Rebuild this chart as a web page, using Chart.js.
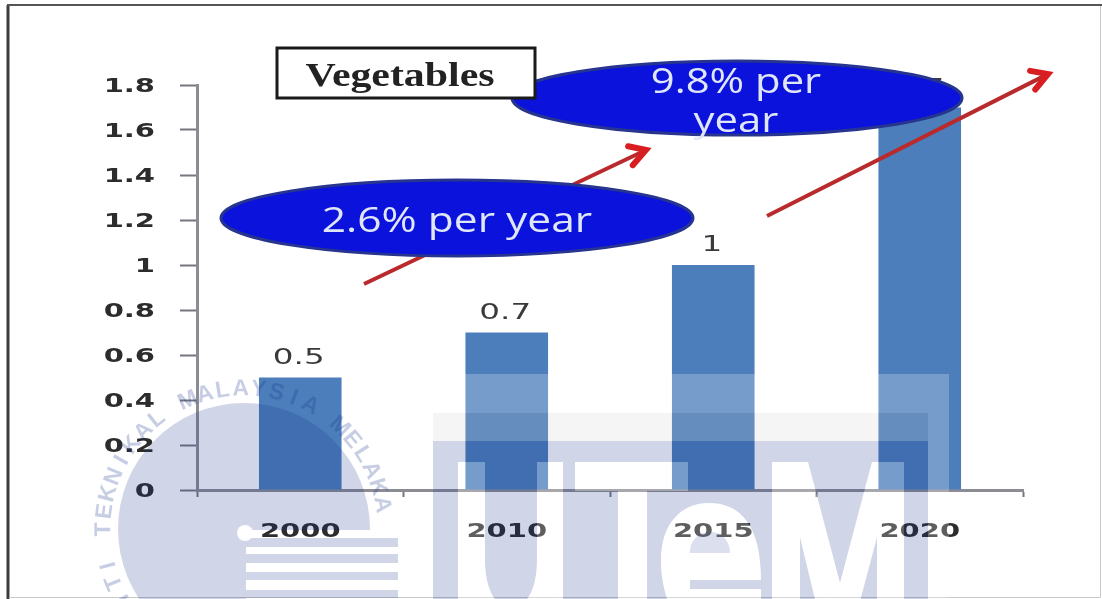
<!DOCTYPE html>
<html>
<head>
<meta charset="utf-8">
<title>Vegetables</title>
<script src="https://cdn.jsdelivr.net/npm/chart.js@4/dist/chart.umd.min.js"></script>
<style>
  html, body { margin: 0; padding: 0; background: #fff; overflow: hidden; }
  canvas { display: block; }
</style>
</head>
<body>
<canvas id="vegChart" width="1102" height="599"></canvas>
<script>
// Datos del gráfico
const years = ["2000", "2010", "2015", "2020"];
const vegetableValues = [0.5, 0.7, 1, 1.7];
const valueLabels = ["0.5", "0.7", "1", "1.7"];
const yTickValues = [0, 0.2, 0.4, 0.6, 0.8, 1, 1.2, 1.4, 1.6, 1.8];
const chartTitle = "Vegetables";
const growthLow = ["2.6% per year"];
const growthHigh = ["9.8% per", "year"];
const sealText = "UNIVERSITI TEKNIKAL MALAYSIA MELAKA";

const tint = "rgba(20,50,140,0.2)";

// Texto estirado en horizontal
function wideText(ctx, text, x, y, stretch) {
  ctx.save();
  ctx.translate(x, y);
  ctx.scale(stretch, 1);
  ctx.textAlign = "center";
  ctx.textBaseline = "middle";
  ctx.fillText(text, 0, 0);
  ctx.restore();
}

function drawArrow(ctx, x1, y1, x2, y2) {
  const angle = Math.atan2(y2 - y1, x2 - x1);
  ctx.save();
  ctx.strokeStyle = "#b92a2c";
  ctx.lineWidth = 4;
  ctx.beginPath();
  ctx.moveTo(x1, y1);
  ctx.lineTo(x2 - 8 * Math.cos(angle), y2 - 8 * Math.sin(angle));
  ctx.stroke();
  ctx.strokeStyle = "#d81e20";
  ctx.lineWidth = 6;
  ctx.lineCap = "round";
  ctx.beginPath();
  ctx.moveTo(x2 - 26 * Math.cos(angle - 0.5), y2 - 20 * Math.sin(angle - 0.5));
  ctx.lineTo(x2 - 2, y2 + 1);
  ctx.lineTo(x2 - 20 * Math.cos(angle + 0.55), y2 - 26 * Math.sin(angle + 0.55));
  ctx.stroke();
  ctx.restore();
}

function drawBubble(ctx, cx, cy, rx, ry) {
  ctx.save();
  ctx.beginPath();
  ctx.ellipse(cx, cy, rx, ry, 0, 0, Math.PI * 2);
  ctx.fillStyle = "#0a12dc";
  ctx.fill();
  ctx.strokeStyle = "#27358f";
  ctx.lineWidth = 3;
  ctx.stroke();
  ctx.restore();
}

// Ensancha los textos de los ejes mientras se dibujan las escalas
const wideTicksPlugin = {
  id: "wideTicks",
  beforeDraw(chart) {
    const ctx = chart.ctx;
    const fillText = CanvasRenderingContext2D.prototype.fillText;
    ctx.fillText = function (text, x, y) {
      ctx.save();
      ctx.translate(x, y + 1.5);
      ctx.scale(1.45, 1);
      fillText.call(ctx, text, 0, 0);
      ctx.restore();
    };
  },
  beforeDatasetsDraw(chart) {
    delete chart.ctx.fillText;
  },
};

// Etiquetas de valor sobre cada barra
const valueLabelPlugin = {
  id: "valueLabels",
  afterDatasetsDraw(chart) {
    const ctx = chart.ctx;
    const bars = chart.getDatasetMeta(0).data;
    ctx.save();
    ctx.fillStyle = "#3a3a3a";
    ctx.font = "21px 'DejaVu Sans'";
    bars.forEach((bar, i) => {
      wideText(ctx, valueLabels[i], bar.x - 1.5, bar.y - 19, 1.55);
    });
    ctx.restore();
  },
};

// Flechas, óvalos y recuadro del título
const annotationPlugin = {
  id: "annotations",
  afterDraw(chart) {
    const ctx = chart.ctx;
    ctx.save();

    drawArrow(ctx, 364, 284, 648, 149);
    drawBubble(ctx, 457, 218, 236, 38);
    drawBubble(ctx, 737, 98, 225, 37);
    drawArrow(ctx, 767, 216, 1050, 73);

    ctx.fillStyle = "#dfe6f7";
    ctx.font = "34px 'Open Sans'";
    wideText(ctx, growthLow[0], 457, 222, 1.25);
    wideText(ctx, growthHigh[0], 736, 83, 1.23);
    wideText(ctx, growthHigh[1], 736, 122, 1.23);

    ctx.fillStyle = "#fff";
    ctx.fillRect(277, 48, 258, 50);
    ctx.strokeStyle = "#1a1a1a";
    ctx.lineWidth = 3;
    ctx.strokeRect(277, 48, 258, 50);
    ctx.fillStyle = "#222";
    ctx.font = "bold 34px 'Liberation Serif'";
    wideText(ctx, chartTitle, 400, 77, 1.23);

    // Marco de la diapositiva
    ctx.strokeStyle = "#3c3c3c";
    ctx.lineWidth = 3;
    ctx.beginPath();
    ctx.moveTo(8, 599);
    ctx.lineTo(8, 5);
    ctx.stroke();
    ctx.lineWidth = 2;
    ctx.strokeStyle = "#555";
    ctx.beginPath();
    ctx.moveTo(7, 5);
    ctx.lineTo(1102, 5);
    ctx.stroke();
    ctx.lineWidth = 1;
    ctx.strokeStyle = "#c8c8c8";
    ctx.beginPath();
    ctx.moveTo(1100.5, 6);
    ctx.lineTo(1100.5, 597.5);
    ctx.lineTo(9, 597.5);
    ctx.stroke();

    drawSeal(ctx);
    drawLetters(ctx);
    ctx.restore();
  },
};

// Sello circular con franjas
function drawSeal(ctx) {
  const cx = 244, cy = 529, r = 126;
  ctx.save();
  ctx.beginPath();
  ctx.rect(0, 0, 1102, 530);
  ctx.rect(0, 530, 246, 69);
  ctx.clip();
  ctx.beginPath();
  ctx.arc(cx, cy, r, 0, Math.PI * 2);
  ctx.fillStyle = tint;
  ctx.fill();
  ctx.restore();

  ctx.fillStyle = tint;
  [[538, 9], [554, 9], [572, 8], [590, 8]].forEach(([y, h]) => {
    ctx.fillRect(246, y, 152, h);
  });

  ctx.fillStyle = "#fff";
  ctx.beginPath();
  ctx.arc(245, 533, 8, 0, Math.PI * 2);
  ctx.fill();

  // Letras alrededor del sello
  ctx.fillStyle = "rgba(20,50,140,0.24)";
  ctx.font = "bold 23px 'Liberation Sans'";
  ctx.textAlign = "center";
  ctx.textBaseline = "middle";
  const step = 7.4 * Math.PI / 180;
  const last = 80 * Math.PI / 180;
  const n = sealText.length;
  for (let i = 0; i < n; i++) {
    const a = last - (n - 1 - i) * step;
    ctx.save();
    ctx.translate(cx + 140 * Math.sin(a), cy - 140 * Math.cos(a));
    ctx.rotate(a);
    ctx.fillText(sealText[i], 0, 0);
    ctx.restore();
  }
}

// Bloque con las letras recortadas
function drawLetters(ctx) {
  const letters = new Path2D();
  // U
  letters.moveTo(458, 462);
  letters.lineTo(485, 462);
  letters.lineTo(485, 560);
  letters.bezierCurveTo(485, 625, 537, 625, 537, 560);
  letters.lineTo(537, 462);
  letters.lineTo(563, 462);
  letters.lineTo(563, 640);
  letters.lineTo(458, 640);
  letters.closePath();
  // T
  letters.moveTo(575, 462);
  letters.lineTo(688, 462);
  letters.lineTo(688, 491);
  letters.lineTo(647, 491);
  letters.lineTo(647, 640);
  letters.lineTo(618, 640);
  letters.lineTo(618, 491);
  letters.lineTo(575, 491);
  letters.closePath();
  // e
  letters.moveTo(761, 640);
  letters.lineTo(709, 640);
  letters.bezierCurveTo(680, 640, 661, 600, 661, 560);
  letters.bezierCurveTo(661, 525, 680, 503, 709, 503);
  letters.bezierCurveTo(740, 503, 761, 525, 761, 580);
  letters.lineTo(690, 580);
  letters.lineTo(690, 589);
  letters.lineTo(761, 589);
  letters.closePath();
  letters.moveTo(690, 553);
  letters.bezierCurveTo(690, 525, 730, 525, 730, 553);
  letters.closePath();
  // M
  letters.moveTo(772, 462);
  letters.lineTo(808, 462);
  letters.lineTo(840, 583);
  letters.lineTo(872, 462);
  letters.lineTo(904, 462);
  letters.lineTo(904, 640);
  letters.lineTo(877, 640);
  letters.lineTo(877, 537);
  letters.lineTo(855, 620);
  letters.lineTo(820, 620);
  letters.lineTo(800, 537);
  letters.lineTo(800, 640);
  letters.lineTo(772, 640);
  letters.closePath();

  const block = new Path2D();
  block.rect(433, 441, 495, 160);
  block.addPath(letters);
  ctx.fillStyle = tint;
  ctx.fill(block, "evenodd");

  ctx.fillStyle = "rgba(255,255,255,0.24)";
  ctx.fill(letters);
  ctx.fillRect(433, 374, 516, 39);
  ctx.fillRect(928, 413, 21, 186);
  ctx.fillStyle = "rgba(205,205,205,0.2)";
  ctx.fillRect(433, 413, 495, 28);
}

const ctx = document.getElementById("vegChart").getContext("2d");
const vegChart = new Chart(ctx, {
  type: "bar",
  data: {
    labels: years,
    datasets: [
      {
        data: vegetableValues,
        backgroundColor: "#4c7ebb",
        barPercentage: 0.4,
        categoryPercentage: 1,
      },
    ],
  },
  options: {
    responsive: false,
    animation: false,
    layout: { padding: { top: 85, right: 79, left: 0, bottom: 0 } },
    plugins: {
      legend: { display: false },
      tooltip: { enabled: false },
    },
    scales: {
      x: {
        afterFit: (scale) => { scale.height = 109; },
        border: { color: "#8c8c94", width: 3 },
        grid: {
          drawOnChartArea: false,
          color: "#77777f",
          tickLength: 7,
          tickWidth: 2,
        },
        ticks: {
          color: "#2c2c2c",
          padding: 21,
          maxRotation: 0,
          font: { family: "'DejaVu Sans'", size: 20, weight: "bold" },
        },
      },
      y: {
        min: 0,
        max: 1.8,
        afterFit: (scale) => { scale.width = 197; },
        afterBuildTicks: (scale) => {
          scale.ticks = yTickValues.map((value) => ({ value }));
        },
        border: { color: "#8c8c94", width: 3 },
        grid: {
          drawOnChartArea: false,
          color: "#77777f",
          tickLength: 17,
          tickWidth: 2,
        },
        ticks: {
          color: "#2c2c2c",
          padding: 25,
          autoSkip: false,
          callback: (value) => String(+value.toFixed(1)),
          font: { family: "'DejaVu Sans'", size: 20, weight: "bold" },
        },
      },
    },
  },
  plugins: [wideTicksPlugin, valueLabelPlugin, annotationPlugin],
});
</script>
</body>
</html>
